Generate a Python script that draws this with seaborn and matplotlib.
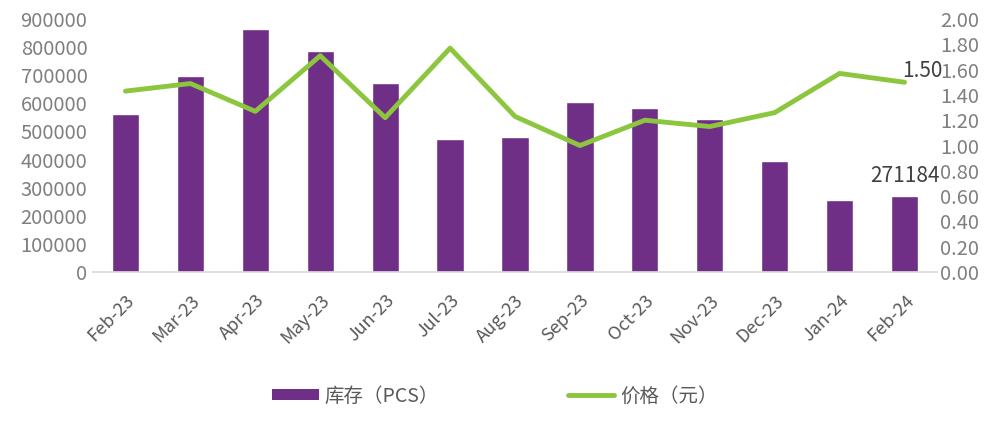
import numpy as np
import pandas as pd
import matplotlib.pyplot as plt
from matplotlib.ticker import FixedLocator, FuncFormatter
from matplotlib.lines import Line2D
from matplotlib.patches import Patch
import seaborn as sns

months = ["Feb-23", "Mar-23", "Apr-23", "May-23", "Jun-23", "Jul-23", "Aug-23",
          "Sep-23", "Oct-23", "Nov-23", "Dec-23", "Jan-24", "Feb-24"]
stock = [562000, 698000, 866000, 786000, 672000, 474000, 481000,
         606000, 584000, 545000, 395000, 257000, 271184]
price = [1.43, 1.49, 1.27, 1.71, 1.22, 1.77, 1.23,
         1.00, 1.20, 1.15, 1.26, 1.57, 1.50]

PURPLE = "#702F87"
GREEN = "#8CC63F"
GRAY = "#7F7F7F"

df = pd.DataFrame({"month": months, "stock": stock, "price": price})

sns.set_style("white")
plt.rcParams["font.family"] = ["Noto Sans CJK SC", "DejaVu Sans"]

fig = plt.figure(figsize=(10, 4.23), dpi=100)
ax = fig.add_axes([0.093, 0.357, 0.844, 0.598])

sns.barplot(data=df, x="month", y="stock", color=PURPLE, saturation=1,
            width=0.42, ax=ax)
ax.set_ylim(0, 900000)
ax.set_xlim(-0.5, len(months) - 0.5)
ax.set_yticks(np.arange(0, 900001, 100000))
ax.set_xlabel("")
ax.set_ylabel("")

ax2 = ax.twinx()
sns.lineplot(x=np.arange(len(months)), y=df["price"], color=GREEN, lw=3.5,
             ax=ax2)
ax2.set_ylim(0, 2.0)
ax2.set_yticks(np.arange(0, 2.01, 0.2))
ax2.yaxis.set_major_formatter(FuncFormatter(lambda v, p: f"{v:.2f}"))
ax2.set_ylabel("")

for a in (ax, ax2):
    for s in ("top", "left", "right"):
        a.spines[s].set_visible(False)
    a.tick_params(axis="y", length=0, labelsize=14.5, labelcolor=GRAY, pad=4)
ax2.tick_params(axis="y", pad=2)
ax2.spines["bottom"].set_visible(False)
ax.spines["bottom"].set_color("#D9D9D9")
ax.spines["bottom"].set_linewidth(1.2)

# category ticks between bars
ax.xaxis.set_major_locator(FixedLocator(np.arange(len(months))))
ax.set_xticklabels(months, rotation=45, ha="right", rotation_mode="anchor",
                   fontsize=13, color="#595959")
ax.tick_params(axis="x", which="major", length=0, pad=14)
ax.xaxis.set_minor_locator(FixedLocator(np.arange(-0.5, len(months), 1)))
ax.tick_params(axis="x", which="minor", length=7, color="#D9D9D9", width=1.2)

ax.text(len(months) - 1, stock[-1] + 30000, f"{stock[-1]}", ha="center",
        va="bottom", fontsize=15, color="#404040")
ax2.text(len(months) - 1 + 0.27, price[-1] + 0.0, f"{price[-1]:.2f}",
         ha="center", va="bottom", fontsize=15, color="#404040")

handles = [Patch(facecolor=PURPLE, edgecolor="none"),
           Line2D([0], [0], color=GREEN, lw=3.5)]
fig.legend(handles, ["库存（PCS）", "价格（元）"], loc="center",
           bbox_to_anchor=(0.495, 0.064), ncol=2, frameon=False, fontsize=14,
           labelcolor="#595959", columnspacing=6.6, handlelength=2.4,
           handleheight=0.55, handletextpad=0.3)

fig.savefig("out.png", dpi=100)
